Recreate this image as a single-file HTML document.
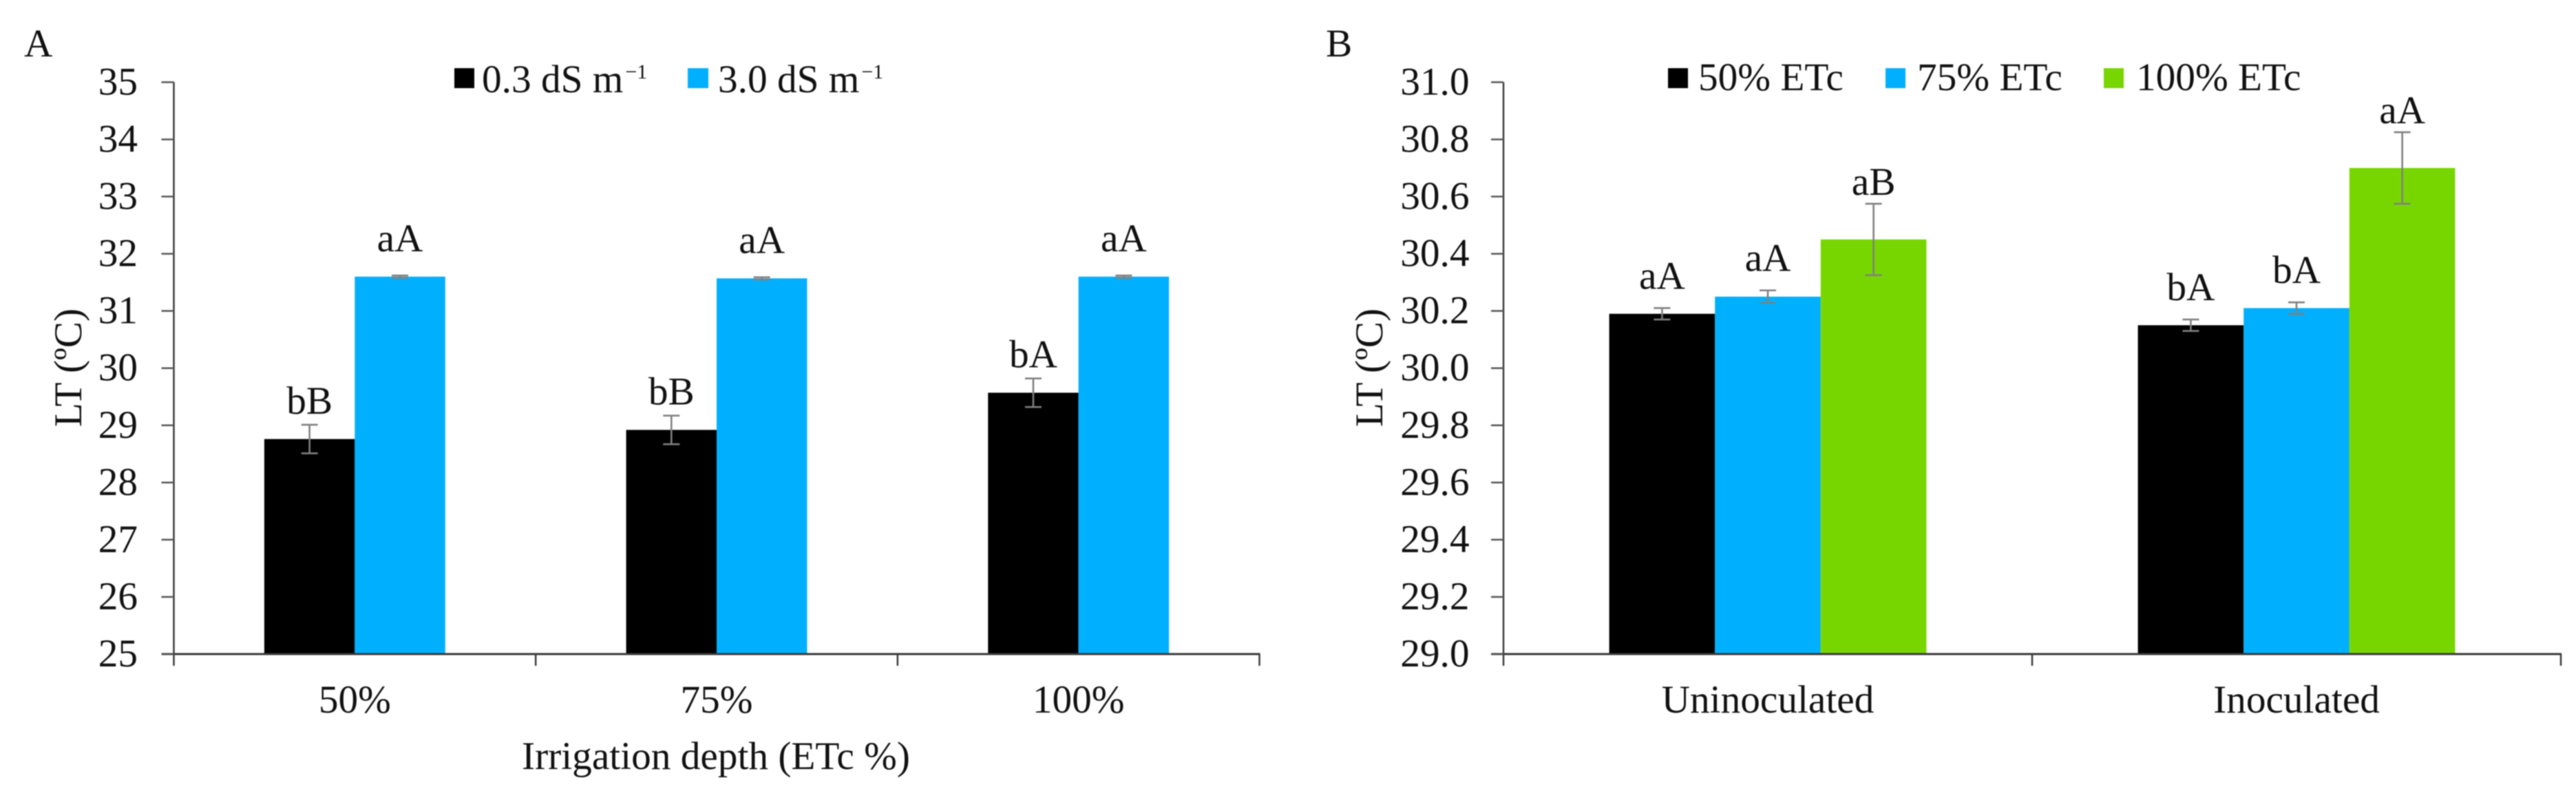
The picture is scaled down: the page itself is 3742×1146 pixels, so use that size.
<!DOCTYPE html>
<html lang="en">
<head>
<meta charset="utf-8">
<title>Leaf temperature charts</title>
<style>
html,body{margin:0;padding:0;background:#fff;}
body{width:3742px;height:1146px;overflow:hidden;}
svg{display:block;filter:blur(0.7px);}
text{font-family:"Liberation Serif",serif;font-size:57.3px;fill:#111;}
</style>
</head>
<body>
<svg id="figure" xmlns="http://www.w3.org/2000/svg" width="3742" height="1146" viewBox="0 0 3742 1146">
  <rect x="0" y="0" width="3742" height="1146" fill="#ffffff"/>

  <g id="panel-a">
    <text x="35" y="82">A</text>
    <text transform="translate(118 534) rotate(-90)" text-anchor="middle">LT (ºC)</text>
    <text x="1040" y="1117" text-anchor="middle">Irrigation depth (ETc %)</text>
    <g>
      <rect x="660" y="99" width="29" height="29" fill="#000000"/>
      <text x="700" y="134">0.3 dS m<tspan dx="3" dy="-20" font-size="30">−1</tspan></text>
    </g>
    <g>
      <rect x="999" y="99" width="30" height="29" fill="#00B0FF"/>
      <text x="1043" y="134">3.0 dS m<tspan dx="3" dy="-20" font-size="30">−1</tspan></text>
    </g>
  </g>

  <g id="panel-b">
    <text x="1926" y="82">B</text>
    <text transform="translate(2008 534) rotate(-90)" text-anchor="middle">LT (ºC)</text>
    <g>
      <rect x="2423" y="99" width="29" height="29" fill="#000000"/>
      <text x="2467" y="131">50% ETc</text>
    </g>
    <g>
      <rect x="2739" y="99" width="29" height="29" fill="#00B0FF"/>
      <text x="2785" y="131">75% ETc</text>
    </g>
    <g>
      <rect x="3056" y="99" width="29" height="29" fill="#78D600"/>
      <text x="3103" y="131">100% ETc</text>
    </g>
  </g>
</svg>

<script>
// Panel A data
const categoriesA = ["50%", "75%", "100%"];
const tickLabelsA = ["25", "26", "27", "28", "29", "30", "31", "32", "33", "34", "35"];
const valuesA03 = [28.76, 28.92, 29.57];
const errorsA03 = [0.25, 0.25, 0.25];
const lettersA03 = ["bB", "bB", "bA"];
const valuesA30 = [31.60, 31.57, 31.60];
const errorsA30 = [0.02, 0.02, 0.02];
const lettersA30 = ["aA", "aA", "aA"];

// Panel B data
const categoriesB = ["Uninoculated", "Inoculated"];
const tickLabelsB = ["29.0", "29.2", "29.4", "29.6", "29.8", "30.0", "30.2", "30.4", "30.6", "30.8", "31.0"];
const values50 = [30.19, 30.15];
const errors50 = [0.02, 0.02];
const letters50 = ["aA", "bA"];
const values75 = [30.25, 30.21];
const errors75 = [0.022, 0.02];
const letters75 = ["aA", "bA"];
const values100 = [30.45, 30.70];
const errors100 = [0.125, 0.125];
const letters100 = ["aB", "aA"];

const SVG_NS = 'http://www.w3.org/2000/svg';

function make(parent, tag, attrs) {
  const node = document.createElementNS(SVG_NS, tag);
  for (const key in attrs) node.setAttribute(key, attrs[key]);
  parent.appendChild(node);
  return node;
}

function drawPanel(root, prefix, frame, categories, tickLabels, series) {
  const yMin = parseFloat(tickLabels[0]);
  const yMax = parseFloat(tickLabels[tickLabels.length - 1]);
  const yScale = function (v) {
    return frame.bottom - (v - yMin) / (yMax - yMin) * (frame.bottom - frame.top);
  };
  const catWidth = (frame.right - frame.left) / categories.length;
  const barWidth = catWidth / (series.length + 2);
  const xScale = function (c, s) {
    return frame.left + catWidth * (c + 0.5) + (s - series.length / 2) * barWidth;
  };

  // Bars
  series.forEach(function (sr, s) {
    sr.values.forEach(function (v, c) {
      const el = make(root, 'rect', {
        x: xScale(c, s), y: yScale(v), width: barWidth, height: frame.bottom - yScale(v), fill: sr.color
      });
      
      
    });
  });

  // Axes
  const stroke = '#3a3a3a';
  const yAxis = make(root, 'line', {
    x1: frame.left, x2: frame.left, y1: frame.top, y2: frame.bottom + 17, stroke: stroke, 'stroke-width': 2.5
  });
  
  
  const xAxis = make(root, 'line', {
    x1: frame.left - 18, x2: frame.right + 1, y1: frame.bottom, y2: frame.bottom, stroke: stroke, 'stroke-width': 3
  });
  
  

  tickLabels.forEach(function (label) {
    const v = parseFloat(label);
    const y = yScale(v);
    const tick = make(root, 'line', {
      x1: frame.left - 18, x2: frame.left, y1: y, y2: y, stroke: '#555', 'stroke-width': 2.5
    });
    
    
    const text = make(root, 'text', { x: frame.labelRight, y: y + 18, 'text-anchor': 'end' });
    text.textContent = label;
    
    
  });

  categories.forEach(function (name, c) {
    const tx = frame.left + catWidth * (c + 1);
    const tick = make(root, 'line', {
      x1: tx, x2: tx, y1: frame.bottom, y2: frame.bottom + 17, stroke: stroke, 'stroke-width': 2.5
    });
    
    
    const text = make(root, 'text', {
      x: frame.left + catWidth * (c + 0.5), y: frame.bottom + 85, 'text-anchor': 'middle'
    });
    text.textContent = name;
    
    
  });

  // Error bars and significance letters
  series.forEach(function (sr, s) {
    sr.values.forEach(function (v, c) {
      const cx = xScale(c, s) + barWidth / 2;
      const hi = yScale(v + sr.errors[c]);
      const lo = yScale(v - sr.errors[c]);
      const whisker = make(root, 'path', {
        d: 'M' + (cx - 12) + ' ' + hi + 'H' + (cx + 12) + 'M' + cx + ' ' + hi + 'V' + lo + 'M' + (cx - 12) + ' ' + lo + 'H' + (cx + 12),
        stroke: '#808080', 'stroke-width': 2.6, fill: 'none'
      });
      
      
      const letter = make(root, 'text', { x: cx, y: hi - sr.labelGap, 'text-anchor': 'middle' });
      letter.textContent = sr.letters[c];
      
      
    });
  });
}

drawPanel(
  document.getElementById('panel-a'), 'panel-a',
  { left: 252.5, right: 1829.5, top: 119.4, bottom: 950, labelRight: 200 },
  categoriesA, tickLabelsA,
  [
    { key: '0-3-ds', values: valuesA03, errors: errorsA03, letters: lettersA03, color: '#000000', labelGap: 16 },
    { key: '3-0-ds', values: valuesA30, errors: errorsA30, letters: lettersA30, color: '#00B0FF', labelGap: 35 }
  ]
);

drawPanel(
  document.getElementById('panel-b'), 'panel-b',
  { left: 2184, right: 3720, top: 119.4, bottom: 950, labelRight: 2134.5 },
  categoriesB, tickLabelsB,
  [
    { key: '50-etc', values: values50, errors: errors50, letters: letters50, color: '#000000', labelGap: 28 },
    { key: '75-etc', values: values75, errors: errors75, letters: letters75, color: '#00B0FF', labelGap: 28 },
    { key: '100-etc', values: values100, errors: errors100, letters: letters100, color: '#78D600', labelGap: 13 }
  ]
);
</script>
</body>
</html>
